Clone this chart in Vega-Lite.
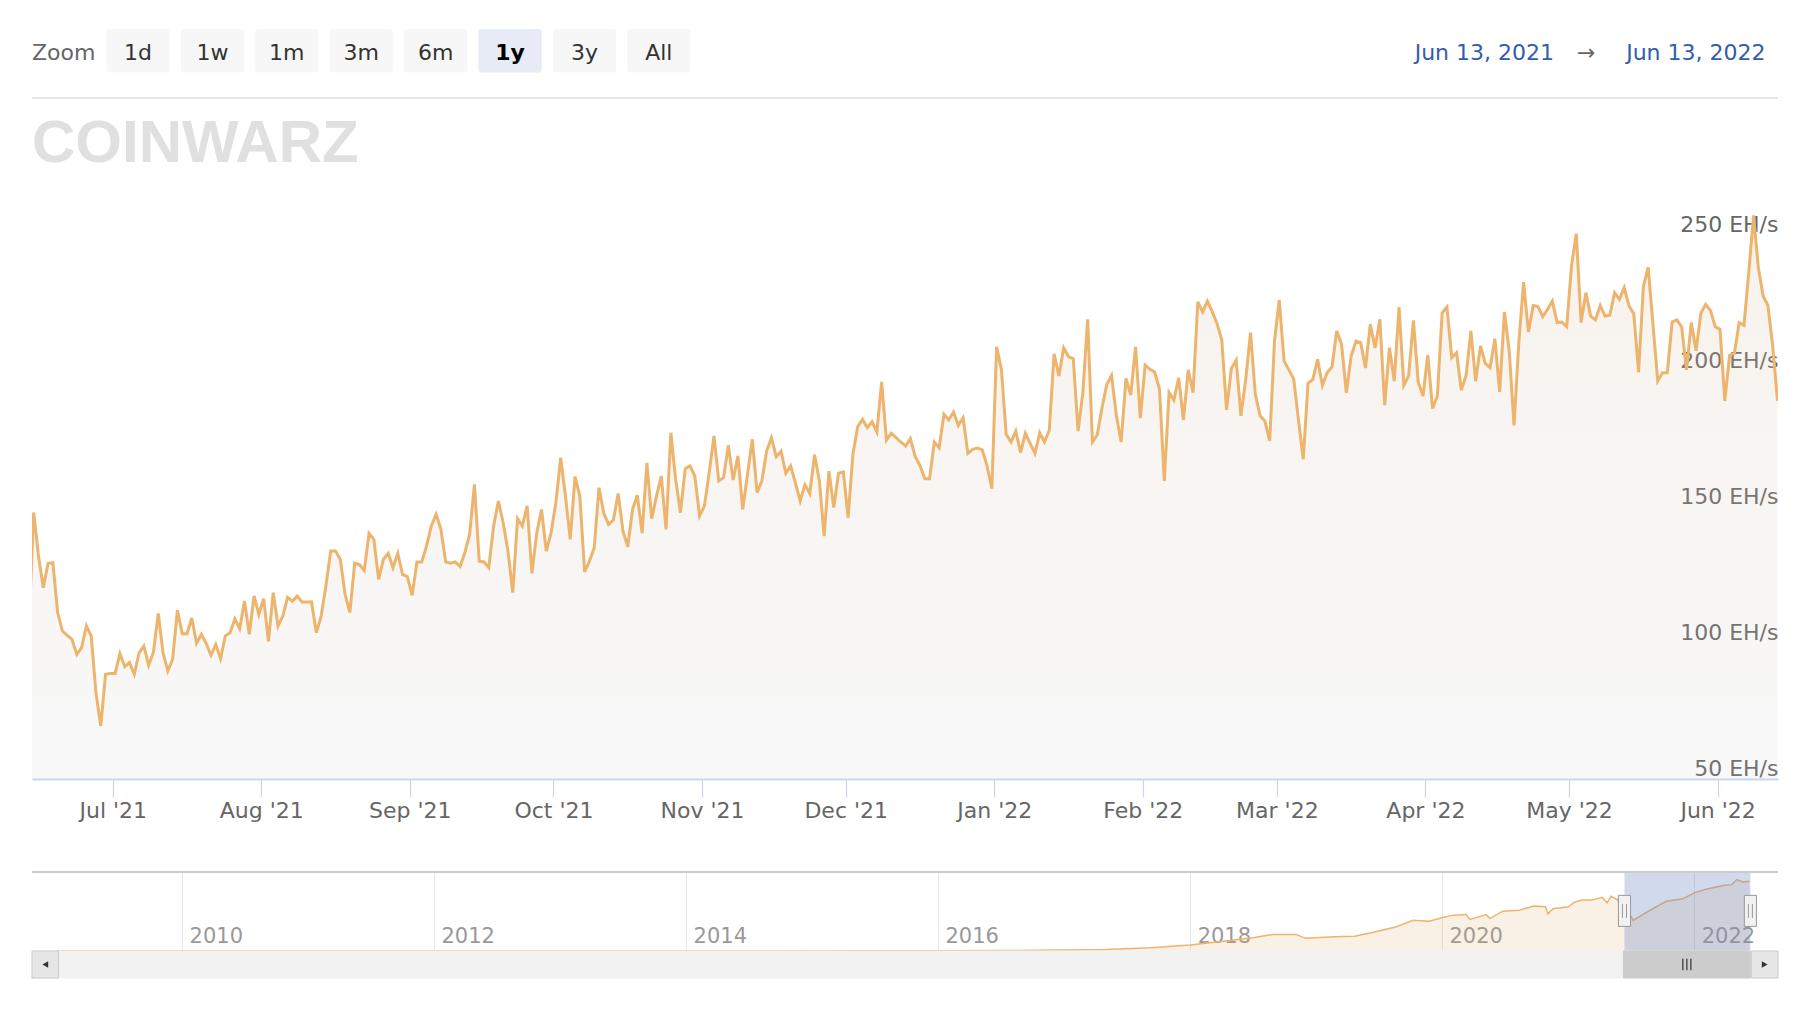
{
  "$schema": "https://vega.github.io/schema/vega-lite/v6.json",
  "background": "white",
  "padding": {"left": 31, "top": 29, "right": 31, "bottom": 30},
  "bounds": "flush",
  "spacing": 0,
  "resolve": {"scale": {"color": "independent", "stroke": "independent", "shape": "independent"}},
  "datasets": {
    "hash": [
      {"t":"2021-06-13T12:00","v":106},{"t":"2021-06-14T12:00","v":148},{"t":"2021-06-15T12:00","v":132},{"t":"2021-06-16T12:00","v":120.3},{"t":"2021-06-17T12:00","v":129.3},{"t":"2021-06-18T12:00","v":129.5},{"t":"2021-06-19T12:00","v":111.2},{"t":"2021-06-20T12:00","v":104.4},{"t":"2021-06-21T12:00","v":102.8},{"t":"2021-06-22T12:00","v":101.3},{"t":"2021-06-23T12:00","v":95.8},{"t":"2021-06-24T12:00","v":98.3},{"t":"2021-06-25T12:00","v":106.3},{"t":"2021-06-26T12:00","v":102.6},{"t":"2021-06-27T12:00","v":81.7},{"t":"2021-06-28T12:00","v":69.5},{"t":"2021-06-29T12:00","v":88.5},{"t":"2021-06-30T12:00","v":88.8},
      {"t":"2021-07-01T12:00","v":88.8},{"t":"2021-07-02T12:00","v":96.1},{"t":"2021-07-03T12:00","v":91.3},{"t":"2021-07-04T12:00","v":92.8},{"t":"2021-07-05T12:00","v":88.5},{"t":"2021-07-06T12:00","v":96.4},{"t":"2021-07-07T12:00","v":98.9},{"t":"2021-07-08T12:00","v":91.8},{"t":"2021-07-09T12:00","v":96.7},{"t":"2021-07-10T12:00","v":110.9},{"t":"2021-07-11T12:00","v":96.4},{"t":"2021-07-12T12:00","v":89.7},{"t":"2021-07-13T12:00","v":94},{"t":"2021-07-14T12:00","v":112.1},{"t":"2021-07-15T12:00","v":103.4},{"t":"2021-07-16T12:00","v":103.4},{"t":"2021-07-17T12:00","v":109.2},{"t":"2021-07-18T12:00","v":99.9},{"t":"2021-07-19T12:00","v":103.2},{"t":"2021-07-20T12:00","v":99.9},{"t":"2021-07-21T12:00","v":95.5},{"t":"2021-07-22T12:00","v":99.5},{"t":"2021-07-23T12:00","v":94.2},{"t":"2021-07-24T12:00","v":102.6},{"t":"2021-07-25T12:00","v":103.8},{"t":"2021-07-26T12:00","v":108.9},{"t":"2021-07-27T12:00","v":105.3},{"t":"2021-07-28T12:00","v":115.4},{"t":"2021-07-29T12:00","v":103.2},{"t":"2021-07-30T12:00","v":117.3},{"t":"2021-07-31T12:00","v":110.5},
      {"t":"2021-08-01T12:00","v":116.3},{"t":"2021-08-02T12:00","v":100.6},{"t":"2021-08-03T12:00","v":118.5},{"t":"2021-08-04T12:00","v":106.3},{"t":"2021-08-05T12:00","v":109.9},{"t":"2021-08-06T12:00","v":116.8},{"t":"2021-08-07T12:00","v":115.4},{"t":"2021-08-08T12:00","v":117.3},{"t":"2021-08-09T12:00","v":115.1},{"t":"2021-08-10T12:00","v":115.1},{"t":"2021-08-11T12:00","v":115.1},{"t":"2021-08-12T12:00","v":103.8},{"t":"2021-08-13T12:00","v":109.9},{"t":"2021-08-14T12:00","v":121},{"t":"2021-08-15T12:00","v":133.8},{"t":"2021-08-16T12:00","v":133.8},{"t":"2021-08-17T12:00","v":130.8},{"t":"2021-08-18T12:00","v":117.9},{"t":"2021-08-19T12:00","v":111.2},{"t":"2021-08-20T12:00","v":129.3},{"t":"2021-08-21T12:00","v":128.8},{"t":"2021-08-22T12:00","v":126.6},{"t":"2021-08-23T12:00","v":140.3},{"t":"2021-08-24T12:00","v":138.1},{"t":"2021-08-25T12:00","v":123.4},{"t":"2021-08-26T12:00","v":130.8},{"t":"2021-08-27T12:00","v":133},{"t":"2021-08-28T12:00","v":127.7},{"t":"2021-08-29T12:00","v":133},{"t":"2021-08-30T12:00","v":125.2},{"t":"2021-08-31T12:00","v":124.4},
      {"t":"2021-09-01T12:00","v":117.5},{"t":"2021-09-02T12:00","v":129.8},{"t":"2021-09-03T12:00","v":129.8},{"t":"2021-09-04T12:00","v":135.7},{"t":"2021-09-05T12:00","v":143},{"t":"2021-09-06T12:00","v":147.3},{"t":"2021-09-07T12:00","v":141.8},{"t":"2021-09-08T12:00","v":129.8},{"t":"2021-09-09T12:00","v":129.3},{"t":"2021-09-10T12:00","v":129.8},{"t":"2021-09-11T12:00","v":128.1},{"t":"2021-09-12T12:00","v":133.2},{"t":"2021-09-13T12:00","v":140},{"t":"2021-09-14T12:00","v":158.3},{"t":"2021-09-15T12:00","v":130.1},{"t":"2021-09-16T12:00","v":129.8},{"t":"2021-09-17T12:00","v":127.7},{"t":"2021-09-18T12:00","v":143},{"t":"2021-09-19T12:00","v":152.2},{"t":"2021-09-20T12:00","v":144.2},{"t":"2021-09-21T12:00","v":133.8},{"t":"2021-09-22T12:00","v":118.5},{"t":"2021-09-23T12:00","v":145.7},{"t":"2021-09-24T12:00","v":143},{"t":"2021-09-25T12:00","v":150.4},{"t":"2021-09-26T12:00","v":125.6},{"t":"2021-09-27T12:00","v":140.3},{"t":"2021-09-28T12:00","v":149.1},{"t":"2021-09-29T12:00","v":133.8},{"t":"2021-09-30T12:00","v":140.6},
      {"t":"2021-10-01T12:00","v":151.6},{"t":"2021-10-02T12:00","v":168.1},{"t":"2021-10-03T12:00","v":154},{"t":"2021-10-04T12:00","v":138.1},{"t":"2021-10-05T12:00","v":161.2},{"t":"2021-10-06T12:00","v":154},{"t":"2021-10-07T12:00","v":126.1},{"t":"2021-10-08T12:00","v":130.1},{"t":"2021-10-09T12:00","v":135},{"t":"2021-10-10T12:00","v":157.1},{"t":"2021-10-11T12:00","v":147.7},{"t":"2021-10-12T12:00","v":143.6},{"t":"2021-10-13T12:00","v":145.2},{"t":"2021-10-14T12:00","v":155},{"t":"2021-10-15T12:00","v":141.2},{"t":"2021-10-16T12:00","v":135.4},{"t":"2021-10-17T12:00","v":149.1},{"t":"2021-10-18T12:00","v":154.3},{"t":"2021-10-19T12:00","v":140.4},{"t":"2021-10-20T12:00","v":166.2},{"t":"2021-10-21T12:00","v":145.7},{"t":"2021-10-22T12:00","v":154},{"t":"2021-10-23T12:00","v":161.4},{"t":"2021-10-24T12:00","v":141.8},{"t":"2021-10-25T12:00","v":177.3},{"t":"2021-10-26T12:00","v":160.2},{"t":"2021-10-27T12:00","v":147.9},{"t":"2021-10-28T12:00","v":164.1},{"t":"2021-10-29T12:00","v":165.1},{"t":"2021-10-30T12:00","v":161.4},{"t":"2021-10-31T12:00","v":146.7},
      {"t":"2021-11-01T12:00","v":150.4},{"t":"2021-11-02T12:00","v":162.6},{"t":"2021-11-03T12:00","v":176.1},{"t":"2021-11-04T12:00","v":159.6},{"t":"2021-11-05T12:00","v":160.8},{"t":"2021-11-06T12:00","v":172.7},{"t":"2021-11-07T12:00","v":159.9},{"t":"2021-11-08T12:00","v":168.8},{"t":"2021-11-09T12:00","v":149.1},{"t":"2021-11-10T12:00","v":162},{"t":"2021-11-11T12:00","v":174.9},{"t":"2021-11-12T12:00","v":155.3},{"t":"2021-11-13T12:00","v":159.6},{"t":"2021-11-14T12:00","v":170.6},{"t":"2021-11-15T12:00","v":175.4},{"t":"2021-11-16T12:00","v":168.5},{"t":"2021-11-17T12:00","v":170.5},{"t":"2021-11-18T12:00","v":162.4},{"t":"2021-11-19T12:00","v":165.1},{"t":"2021-11-20T12:00","v":158.9},{"t":"2021-11-21T12:00","v":152.2},{"t":"2021-11-22T12:00","v":158.2},{"t":"2021-11-23T12:00","v":155},{"t":"2021-11-24T12:00","v":169.2},{"t":"2021-11-25T12:00","v":159.6},{"t":"2021-11-26T12:00","v":139.3},{"t":"2021-11-27T12:00","v":163.2},{"t":"2021-11-28T12:00","v":149.8},{"t":"2021-11-29T12:00","v":162.4},{"t":"2021-11-30T12:00","v":162.9},
      {"t":"2021-12-01T12:00","v":146.1},{"t":"2021-12-02T12:00","v":169.4},{"t":"2021-12-03T12:00","v":179.5},{"t":"2021-12-04T12:00","v":182.2},{"t":"2021-12-05T12:00","v":179.2},{"t":"2021-12-06T12:00","v":181.3},{"t":"2021-12-07T12:00","v":177.6},{"t":"2021-12-08T12:00","v":196},{"t":"2021-12-09T12:00","v":174.6},{"t":"2021-12-10T12:00","v":177.1},{"t":"2021-12-11T12:00","v":175.5},{"t":"2021-12-12T12:00","v":173.9},{"t":"2021-12-13T12:00","v":172.4},{"t":"2021-12-14T12:00","v":175.1},{"t":"2021-12-15T12:00","v":168.5},{"t":"2021-12-16T12:00","v":165.3},{"t":"2021-12-17T12:00","v":160.4},{"t":"2021-12-18T12:00","v":160.4},{"t":"2021-12-19T12:00","v":173.9},{"t":"2021-12-20T12:00","v":171.8},{"t":"2021-12-21T12:00","v":184.1},{"t":"2021-12-22T12:00","v":182},{"t":"2021-12-23T12:00","v":184.9},{"t":"2021-12-24T12:00","v":180},{"t":"2021-12-25T12:00","v":182.8},{"t":"2021-12-26T12:00","v":169.7},{"t":"2021-12-27T12:00","v":171.2},{"t":"2021-12-28T12:00","v":171.7},{"t":"2021-12-29T12:00","v":171},{"t":"2021-12-30T12:00","v":165.1},{"t":"2021-12-31T12:00","v":156.7},
      {"t":"2022-01-01T12:00","v":208.9},{"t":"2022-01-02T12:00","v":200.6},{"t":"2022-01-03T12:00","v":176.7},{"t":"2022-01-04T12:00","v":173.9},{"t":"2022-01-05T12:00","v":177.9},{"t":"2022-01-06T12:00","v":170},{"t":"2022-01-07T12:00","v":177.1},{"t":"2022-01-08T12:00","v":173.4},{"t":"2022-01-09T12:00","v":169.7},{"t":"2022-01-10T12:00","v":177.3},{"t":"2022-01-11T12:00","v":173.9},{"t":"2022-01-12T12:00","v":178.3},{"t":"2022-01-13T12:00","v":206.3},{"t":"2022-01-14T12:00","v":198.2},{"t":"2022-01-15T12:00","v":208.5},{"t":"2022-01-16T12:00","v":205.3},{"t":"2022-01-17T12:00","v":204.5},{"t":"2022-01-18T12:00","v":177.9},{"t":"2022-01-19T12:00","v":192},{"t":"2022-01-20T12:00","v":219},{"t":"2022-01-21T12:00","v":173.9},{"t":"2022-01-22T12:00","v":176.5},{"t":"2022-01-23T12:00","v":186.5},{"t":"2022-01-24T12:00","v":195.1},{"t":"2022-01-25T12:00","v":198.4},{"t":"2022-01-26T12:00","v":183.5},{"t":"2022-01-27T12:00","v":173.9},{"t":"2022-01-28T12:00","v":197.3},{"t":"2022-01-29T12:00","v":191.1},{"t":"2022-01-30T12:00","v":208.9},{"t":"2022-01-31T12:00","v":182.7},
      {"t":"2022-02-01T12:00","v":202.2},{"t":"2022-02-02T12:00","v":200.6},{"t":"2022-02-03T12:00","v":199.6},{"t":"2022-02-04T12:00","v":193.3},{"t":"2022-02-05T12:00","v":159.6},{"t":"2022-02-06T12:00","v":192},{"t":"2022-02-07T12:00","v":189.3},{"t":"2022-02-08T12:00","v":197.5},{"t":"2022-02-09T12:00","v":182},{"t":"2022-02-10T12:00","v":200.4},{"t":"2022-02-11T12:00","v":192},{"t":"2022-02-12T12:00","v":225.4},{"t":"2022-02-13T12:00","v":221.7},{"t":"2022-02-14T12:00","v":225.7},{"t":"2022-02-15T12:00","v":221.8},{"t":"2022-02-16T12:00","v":217.5},{"t":"2022-02-17T12:00","v":211.4},{"t":"2022-02-18T12:00","v":185.7},{"t":"2022-02-19T12:00","v":200.9},{"t":"2022-02-20T12:00","v":204},{"t":"2022-02-21T12:00","v":183.5},{"t":"2022-02-22T12:00","v":196.9},{"t":"2022-02-23T12:00","v":214.1},{"t":"2022-02-24T12:00","v":191.4},{"t":"2022-02-25T12:00","v":183.5},{"t":"2022-02-26T12:00","v":181.6},{"t":"2022-02-27T12:00","v":174.3},{"t":"2022-02-28T12:00","v":211},
      {"t":"2022-03-01T12:00","v":226.1},{"t":"2022-03-02T12:00","v":203.7},{"t":"2022-03-03T12:00","v":200.4},{"t":"2022-03-04T12:00","v":197.2},{"t":"2022-03-05T12:00","v":182.2},{"t":"2022-03-06T12:00","v":167.5},{"t":"2022-03-07T12:00","v":195.5},{"t":"2022-03-08T12:00","v":196.9},{"t":"2022-03-09T12:00","v":204.3},{"t":"2022-03-10T12:00","v":194.7},{"t":"2022-03-11T12:00","v":199.4},{"t":"2022-03-12T12:00","v":201.5},{"t":"2022-03-13T12:00","v":214.7},{"t":"2022-03-14T12:00","v":209.8},{"t":"2022-03-15T12:00","v":192},{"t":"2022-03-16T12:00","v":205.5},{"t":"2022-03-17T12:00","v":211},{"t":"2022-03-18T12:00","v":210.4},{"t":"2022-03-19T12:00","v":201.1},{"t":"2022-03-20T12:00","v":217.2},{"t":"2022-03-21T12:00","v":208.5},{"t":"2022-03-22T12:00","v":219},{"t":"2022-03-23T12:00","v":187.4},{"t":"2022-03-24T12:00","v":208.6},{"t":"2022-03-25T12:00","v":196.3},{"t":"2022-03-26T12:00","v":223.5},{"t":"2022-03-27T12:00","v":194.7},{"t":"2022-03-28T12:00","v":198.2},{"t":"2022-03-29T12:00","v":218.6},{"t":"2022-03-30T12:00","v":196},{"t":"2022-03-31T12:00","v":190.8},
      {"t":"2022-04-01T12:00","v":205.9},{"t":"2022-04-02T12:00","v":186.2},{"t":"2022-04-03T12:00","v":190.8},{"t":"2022-04-04T12:00","v":221.4},{"t":"2022-04-05T12:00","v":223.5},{"t":"2022-04-06T12:00","v":204.9},{"t":"2022-04-07T12:00","v":206.7},{"t":"2022-04-08T12:00","v":193},{"t":"2022-04-09T12:00","v":198.4},{"t":"2022-04-10T12:00","v":214.7},{"t":"2022-04-11T12:00","v":196.3},{"t":"2022-04-12T12:00","v":209.2},{"t":"2022-04-13T12:00","v":202.8},{"t":"2022-04-14T12:00","v":201.2},{"t":"2022-04-15T12:00","v":211.9},{"t":"2022-04-16T12:00","v":192.3},{"t":"2022-04-17T12:00","v":221.7},{"t":"2022-04-18T12:00","v":207.4},{"t":"2022-04-19T12:00","v":180},{"t":"2022-04-20T12:00","v":210.4},{"t":"2022-04-21T12:00","v":232.7},{"t":"2022-04-22T12:00","v":214.3},{"t":"2022-04-23T12:00","v":224.1},{"t":"2022-04-24T12:00","v":223.7},{"t":"2022-04-25T12:00","v":220},{"t":"2022-04-26T12:00","v":222.7},{"t":"2022-04-27T12:00","v":225.7},{"t":"2022-04-28T12:00","v":217.8},{"t":"2022-04-29T12:00","v":218},{"t":"2022-04-30T12:00","v":216.3},
      {"t":"2022-05-01T12:00","v":238.6},{"t":"2022-05-02T12:00","v":250.5},{"t":"2022-05-03T12:00","v":217.8},{"t":"2022-05-04T12:00","v":228.8},{"t":"2022-05-05T12:00","v":220.2},{"t":"2022-05-06T12:00","v":218.8},{"t":"2022-05-07T12:00","v":224.1},{"t":"2022-05-08T12:00","v":220.2},{"t":"2022-05-09T12:00","v":220.5},{"t":"2022-05-10T12:00","v":228.8},{"t":"2022-05-11T12:00","v":226.3},{"t":"2022-05-12T12:00","v":230.6},{"t":"2022-05-13T12:00","v":223.9},{"t":"2022-05-14T12:00","v":221.1},{"t":"2022-05-15T12:00","v":199.6},{"t":"2022-05-16T12:00","v":231},{"t":"2022-05-17T12:00","v":238.2},{"t":"2022-05-18T12:00","v":217.2},{"t":"2022-05-19T12:00","v":196.3},{"t":"2022-05-20T12:00","v":199.4},{"t":"2022-05-21T12:00","v":199.4},{"t":"2022-05-22T12:00","v":218},{"t":"2022-05-23T12:00","v":218.8},{"t":"2022-05-24T12:00","v":216.2},{"t":"2022-05-25T12:00","v":200.4},{"t":"2022-05-26T12:00","v":217.8},{"t":"2022-05-27T12:00","v":207.4},{"t":"2022-05-28T12:00","v":221.2},{"t":"2022-05-29T12:00","v":224.5},{"t":"2022-05-30T12:00","v":222.3},{"t":"2022-05-31T12:00","v":216.3},
      {"t":"2022-06-01T12:00","v":215.3},{"t":"2022-06-02T12:00","v":189},{"t":"2022-06-03T12:00","v":205.8},{"t":"2022-06-04T12:00","v":206.5},{"t":"2022-06-05T12:00","v":217.8},{"t":"2022-06-06T12:00","v":216.8},{"t":"2022-06-07T12:00","v":236.2},{"t":"2022-06-08T12:00","v":257.2},{"t":"2022-06-09T12:00","v":238},{"t":"2022-06-10T12:00","v":227.6},{"t":"2022-06-11T12:00","v":224.1},{"t":"2022-06-12T12:00","v":209.2},{"t":"2022-06-13T12:00","v":189}
    ],
    "nav": [
      {"t":"2009-01-03","v":0},{"t":"2011-01-01","v":0},{"t":"2013-01-01","v":0},{"t":"2014-06-01","v":0.1},{"t":"2015-06-01","v":0.4},{"t":"2016-01-01","v":0.9},{"t":"2016-07-01","v":1.5},{"t":"2017-01-01","v":2.8},{"t":"2017-05-01","v":4.5},{"t":"2017-09-09","v":10.5},
      {"t":"2018-01-01","v":19},{"t":"2018-04-13","v":31.5},{"t":"2018-07-02","v":42},{"t":"2018-08-29","v":52.5},{"t":"2018-11-03","v":52.5},{"t":"2018-12-02","v":40},
      {"t":"2019-02-24","v":45},{"t":"2019-04-23","v":47},{"t":"2019-06-10","v":58},{"t":"2019-08-22","v":77},{"t":"2019-10-09","v":97.5},{"t":"2019-11-25","v":94.5},
      {"t":"2020-01-01","v":105},{"t":"2020-02-03","v":113.5},{"t":"2020-03-11","v":115.5},{"t":"2020-03-22","v":100},{"t":"2020-05-08","v":115.5},{"t":"2020-05-19","v":102.5},{"t":"2020-06-25","v":126},{"t":"2020-08-11","v":129},{"t":"2020-09-24","v":142},{"t":"2020-10-27","v":140},{"t":"2020-11-03","v":117.5},{"t":"2020-11-18","v":133.5},
      {"t":"2021-01-01","v":140},{"t":"2021-01-19","v":154.5},{"t":"2021-02-10","v":161},{"t":"2021-03-11","v":161},{"t":"2021-04-09","v":170},{"t":"2021-04-24","v":152.5},{"t":"2021-05-05","v":173},{"t":"2021-05-23","v":162.5},{"t":"2021-06-13","v":140},{"t":"2021-07-09","v":97.5},{"t":"2021-08-26","v":129},{"t":"2021-10-12","v":157.5},{"t":"2021-11-29","v":165},
      {"t":"2022-01-01","v":184},{"t":"2022-02-07","v":196.5},{"t":"2022-03-26","v":207},{"t":"2022-04-20","v":210},{"t":"2022-05-05","v":226},{"t":"2022-05-23","v":217.5},{"t":"2022-06-10","v":220.5}
    ]
  },
  "vconcat": [
    {
      "width": 1746,
      "height": 70,
      "layer": [
        {
          "data": {"values": [
            {"x0": 1, "x1": 1.85, "s": "n"}, {"x0": 2, "x1": 2.85, "s": "n"}, {"x0": 3, "x1": 3.85, "s": "n"},
            {"x0": 4, "x1": 4.85, "s": "n"}, {"x0": 5, "x1": 5.85, "s": "n"}, {"x0": 6, "x1": 6.85, "s": "y"},
            {"x0": 7, "x1": 7.85, "s": "n"}, {"x0": 8, "x1": 8.85, "s": "n"}
          ]},
          "mark": {"type": "rect", "cornerRadius": 3},
          "encoding": {
            "x": {"field": "x0", "type": "quantitative", "scale": {"domain": [0, 23.468], "nice": false}, "axis": null},
            "x2": {"field": "x1"},
            "y": {"datum": 1, "type": "quantitative", "scale": {"domain": [0, 1], "nice": false}, "axis": null},
            "y2": {"datum": 0.38},
            "color": {"field": "s", "type": "nominal", "scale": {"domain": ["n", "y"], "range": ["#f7f7f7", "#e6ebf5"]}, "legend": null}
          }
        },
        {
          "data": {"values": [
            {"x0": 1.425, "b": "1d"}, {"x0": 2.425, "b": "1w"}, {"x0": 3.425, "b": "1m"}, {"x0": 4.425, "b": "3m"},
            {"x0": 5.425, "b": "6m"}, {"x0": 7.425, "b": "3y"}, {"x0": 8.425, "b": "All"}
          ]},
          "mark": {"type": "text", "fontSize": 22, "color": "#333333", "baseline": "middle"},
          "encoding": {
            "x": {"field": "x0", "type": "quantitative", "axis": null},
            "y": {"datum": 0.66, "type": "quantitative", "axis": null},
            "text": {"field": "b"}
          }
        },
        {
          "data": {"values": [{"x0": 6.425, "b": "1y"}]},
          "mark": {"type": "text", "fontSize": 22, "fontWeight": "bold", "color": "#000000", "baseline": "middle"},
          "encoding": {
            "x": {"field": "x0", "type": "quantitative", "axis": null},
            "y": {"datum": 0.66, "type": "quantitative", "axis": null},
            "text": {"field": "b"}
          }
        },
        {
          "data": {"values": [{"x0": 0, "b": "Zoom"}]},
          "mark": {"type": "text", "fontSize": 22, "color": "#666666", "align": "left", "baseline": "middle"},
          "encoding": {
            "x": {"field": "x0", "type": "quantitative", "axis": null},
            "y": {"datum": 0.66, "type": "quantitative", "axis": null},
            "text": {"field": "b"}
          }
        },
        {
          "data": {"values": [{"x0": 20.457, "b": "Jun 13, 2021"}, {"x0": 23.3, "b": "Jun 13, 2022"}]},
          "mark": {"type": "text", "fontSize": 22, "color": "#335cad", "align": "right", "baseline": "middle"},
          "encoding": {
            "x": {"field": "x0", "type": "quantitative", "axis": null},
            "y": {"datum": 0.66, "type": "quantitative", "axis": null},
            "text": {"field": "b"}
          }
        },
        {
          "data": {"values": [{"x0": 20.89, "b": "→"}]},
          "mark": {"type": "text", "fontSize": 22, "color": "#666666", "baseline": "middle"},
          "encoding": {
            "x": {"field": "x0", "type": "quantitative", "axis": null},
            "y": {"datum": 0.66, "type": "quantitative", "axis": null},
            "text": {"field": "b"}
          }
        },
        {
          "data": {"values": [{}]},
          "mark": {"type": "rule", "color": "#e6e6e6", "strokeWidth": 2},
          "encoding": {
            "x": {"datum": 0, "type": "quantitative", "axis": null},
            "x2": {"datum": 23.468},
            "y": {"datum": 0.014, "type": "quantitative", "axis": null}
          }
        }
      ]
    },
    {
      "width": 1746,
      "height": 680,
      "layer": [
        {
          "data": {"values": [{"w": "COINWARZ"}]},
          "mark": {"type": "text", "font": "Liberation Sans", "fontWeight": "bold", "fontSize": 60, "color": "#e0e0e0", "align": "left", "baseline": "alphabetic"},
          "encoding": {
            "x": {"datum": {"year": 2021, "month": "jun", "date": 14, "hours": 3, "minutes": 30}, "type": "temporal"},
            "y": {"datum": 277, "type": "quantitative"},
            "text": {"field": "w"}
          }
        },
        {
          "data": {"name": "hash"},
          "mark": {
            "type": "area",
            "clip": true,
            "color": {
              "gradient": "linear",
              "x1": 0, "y1": 0, "x2": 0, "y2": 1,
              "stops": [
                {"offset": 0, "color": "rgba(220,190,160,0.2)"},
                {"offset": 1, "color": "rgba(200,200,200,0.12)"}
              ]
            }
          },
          "encoding": {
            "x": {
              "field": "t", "type": "temporal",
              "scale": {"domain": [
                {"year": 2021, "month": "jun", "date": 14, "hours": 3, "minutes": 30},
                {"year": 2022, "month": "jun", "date": 13, "hours": 14, "minutes": 30}
              ]},
              "axis": {
                "title": null,
                "values": [
                  {"year": 2021, "month": "jul", "date": 1}, {"year": 2021, "month": "aug", "date": 1},
                  {"year": 2021, "month": "sep", "date": 1}, {"year": 2021, "month": "oct", "date": 1},
                  {"year": 2021, "month": "nov", "date": 1}, {"year": 2021, "month": "dec", "date": 1},
                  {"year": 2022, "month": "jan", "date": 1}, {"year": 2022, "month": "feb", "date": 1},
                  {"year": 2022, "month": "mar", "date": 1}, {"year": 2022, "month": "apr", "date": 1},
                  {"year": 2022, "month": "may", "date": 1}, {"year": 2022, "month": "jun", "date": 1}
                ],
                "format": "%b '%y",
                "grid": false,
                "labelFontSize": 22,
                "labelColor": "#666666",
                "labelPadding": 3,
                "labelOverlap": false,
                "tickSize": 18,
                "tickColor": "#ccd6eb",
                "tickWidth": 1.2,
                "domainColor": "#ccd6eb",
                "domainWidth": 2
              }
            },
            "y": {
              "field": "v", "type": "quantitative",
              "scale": {"domain": [50, 300], "nice": false, "zero": false},
              "axis": {
                "orient": "right",
                "title": null,
                "values": [50, 100, 150, 200, 250],
                "labelExpr": "datum.value + ' EH/s'",
                "labelAlign": "right",
                "labelBaseline": "alphabetic",
                "labelPadding": 0,
                "labelOffset": -4,
                "labelFontSize": 22,
                "labelColor": "#666666",
                "ticks": false,
                "domain": false,
                "gridColor": "#e6e6e6",
                "gridWidth": 1.2
              }
            },
            "y2": {"datum": 50}
          }
        },
        {
          "data": {"name": "hash"},
          "mark": {"type": "line", "clip": true, "color": "#ecb46c", "strokeWidth": 3},
          "encoding": {
            "x": {"field": "t", "type": "temporal"},
            "y": {"field": "v", "type": "quantitative"}
          }
        }
      ]
    },
    {
      "width": 1746,
      "height": 93,
      "data": {"values": [{}]},
      "mark": {"type": "rule", "opacity": 0},
      "encoding": {}
    },
    {
      "width": 1746,
      "height": 79,
      "layer": [
        {
          "data": {"name": "nav"},
          "mark": {"type": "area", "color": "#d9a56a", "opacity": 0.17, "clip": true},
          "encoding": {
            "x": {
              "field": "t", "type": "temporal",
              "scale": {"domain": [
                {"year": 2008, "month": "oct", "date": 23},
                {"year": 2022, "month": "sep", "date": 1}
              ]},
              "axis": {
                "orient": "top",
                "title": null,
                "values": [
                  {"year": 2010, "month": "jan", "date": 1}, {"year": 2012, "month": "jan", "date": 1},
                  {"year": 2014, "month": "jan", "date": 1}, {"year": 2016, "month": "jan", "date": 1},
                  {"year": 2018, "month": "jan", "date": 1}, {"year": 2020, "month": "jan", "date": 1},
                  {"year": 2022, "month": "jan", "date": 1}
                ],
                "format": "%Y",
                "grid": true,
                "gridColor": "#e6e6e6",
                "domain": false,
                "ticks": false,
                "labelAlign": "left",
                "labelBaseline": "middle",
                "labelPadding": -64,
                "labelOffset": 7,
                "labelFontSize": 21,
                "labelColor": "#999999"
              }
            },
            "y": {"field": "v", "type": "quantitative", "scale": {"domain": [0, 250], "nice": false}, "axis": null}
          }
        },
        {
          "data": {"name": "nav"},
          "mark": {"type": "line", "color": "#ecb46c", "strokeWidth": 1.5, "clip": true},
          "encoding": {
            "x": {"field": "t", "type": "temporal"},
            "y": {"field": "v", "type": "quantitative", "axis": null}
          }
        },
        {
          "data": {"values": [{"s": "2021-06-13", "e": "2022-06-13"}]},
          "mark": {"type": "rect", "color": "#6685c2", "opacity": 0.3},
          "encoding": {
            "x": {"field": "s", "type": "temporal"},
            "x2": {"field": "e"},
            "y": {"datum": 0, "type": "quantitative", "axis": null},
            "y2": {"datum": 250}
          }
        },
        {
          "data": {"values": [{}]},
          "mark": {"type": "rule", "color": "#cccccc", "strokeWidth": 2},
          "encoding": {
            "y": {"datum": 250, "type": "quantitative", "axis": null}
          }
        },
        {
          "data": {"values": [{"t": "2021-06-13"}, {"t": "2022-06-13"}]},
          "mark": {
            "type": "point",
            "shape": "M-0.39,-1H0.39V1H-0.39Z M-0.13,-0.45V0.45 M0.13,-0.45V0.45",
            "size": 961,
            "filled": true,
            "fill": "#f2f2f2",
            "stroke": "#999999",
            "strokeWidth": 1,
            "opacity": 1
          },
          "encoding": {
            "x": {"field": "t", "type": "temporal"},
            "y": {"datum": 127, "type": "quantitative", "axis": null}
          }
        }
      ]
    },
    {
      "width": 1746,
      "height": 27,
      "layer": [
        {
          "data": {"values": [
            {"a": 0, "b": 1, "k": "track"},
            {"a": 0.9115, "b": 0.9841, "k": "thumb"},
            {"a": 0, "b": 0.0152, "k": "btn"},
            {"a": 0.9848, "b": 1, "k": "btn"}
          ]},
          "mark": {"type": "rect", "strokeWidth": 1},
          "encoding": {
            "x": {"field": "a", "type": "quantitative", "scale": {"domain": [0, 1], "nice": false}, "axis": null},
            "x2": {"field": "b"},
            "y": {"datum": 0, "type": "quantitative", "scale": {"domain": [0, 1], "nice": false}, "axis": null},
            "y2": {"datum": 1},
            "color": {"field": "k", "type": "nominal", "scale": {"domain": ["track", "thumb", "btn"], "range": ["#f2f2f2", "#cccccc", "#e6e6e6"]}, "legend": null},
            "stroke": {"field": "k", "type": "nominal", "scale": {"domain": ["track", "thumb", "btn"], "range": ["#f2f2f2", "#cccccc", "#cccccc"]}, "legend": null}
          }
        },
        {
          "data": {"values": [{"a": 0.0076, "d": "l"}, {"a": 0.9924, "d": "r"}]},
          "mark": {"type": "point", "filled": true, "size": 45, "color": "#333333", "opacity": 1},
          "encoding": {
            "x": {"field": "a", "type": "quantitative", "axis": null},
            "y": {"datum": 0.5, "type": "quantitative", "axis": null},
            "shape": {"field": "d", "type": "nominal", "scale": {"domain": ["l", "r"], "range": ["triangle-left", "triangle-right"]}, "legend": null}
          }
        },
        {
          "data": {"values": [{"a": 0.9478}]},
          "mark": {"type": "point", "shape": "M-0.7,-1V1M0,-1V1M0.7,-1V1", "size": 132, "filled": false, "color": "#333333", "strokeWidth": 1.2, "opacity": 1},
          "encoding": {
            "x": {"field": "a", "type": "quantitative", "axis": null},
            "y": {"datum": 0.5, "type": "quantitative", "axis": null}
          }
        }
      ]
    }
  ],
  "config": {
    "view": {"stroke": null},
    "font": "DejaVu Sans",
    "axis": {"labelFont": "DejaVu Sans"},
    "text": {"font": "DejaVu Sans"}
  }
}
